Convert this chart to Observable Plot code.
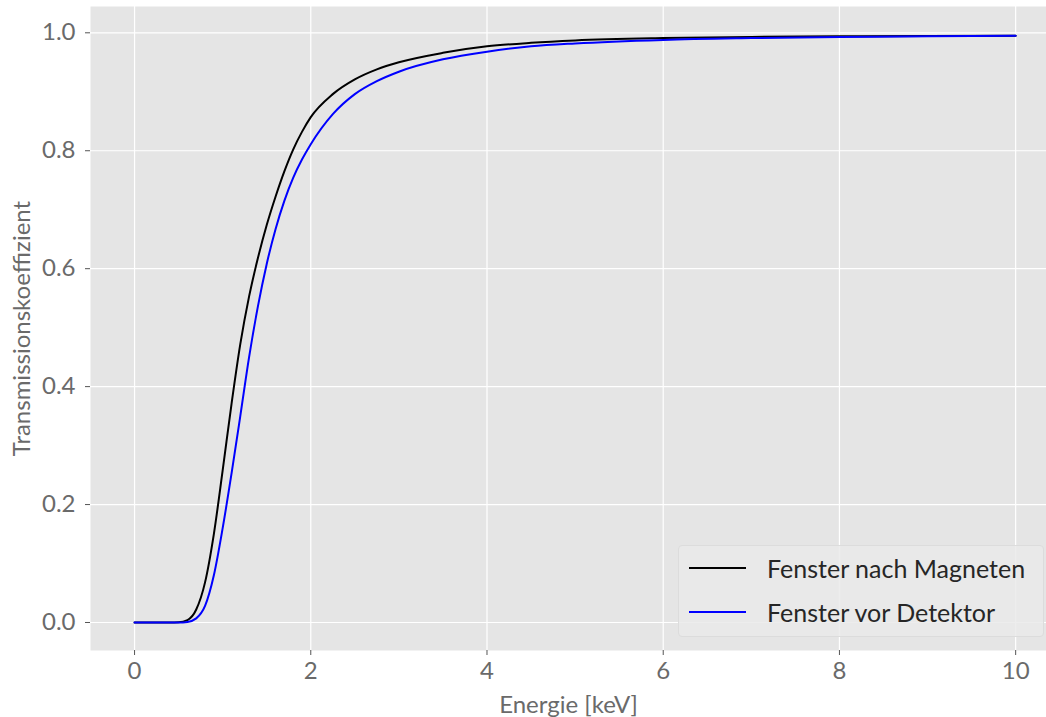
<!DOCTYPE html>
<html>
<head>
<meta charset="utf-8">
<script src="https://cdn.jsdelivr.net/npm/d3@7"></script>
<script src="https://cdn.jsdelivr.net/npm/@observablehq/plot@0.6"></script>
<style>
  html, body { margin: 0; padding: 0; background: #fff; overflow: hidden; }
  #wrap { position: relative; width: 1046px; height: 717px; }
  #legend {
    position: absolute; left: 678px; top: 545px; width: 366px; height: 92px;
    box-sizing: border-box; background: rgba(234,234,234,0.85);
    border: 1px solid #dcdcdc; border-radius: 4px;
    font-family: Lato, "Open Sans", sans-serif; font-size: 25px; color: #262626;
  }
  .item { position: absolute; left: 10px; height: 30px; display: flex; align-items: center; }
  .swatch { width: 57px; height: 2px; margin-right: 21px; }
</style>
</head>
<body>
<div id="wrap">
  <div id="chart"></div>
  <div id="legend"></div>
</div>
<script>
// Transmission of the two windows versus photon energy
const seriesNames = ["Fenster nach Magneten", "Fenster vor Detektor"];
const seriesColors = ["#000000", "#0000ff"];

// Fenster nach Magneten
const energyMagnet = [0, 0.4, 0.5, 0.6, 0.7, 0.8, 0.9, 1.0, 1.1, 1.2, 1.3, 1.4, 1.5, 1.6, 1.7, 1.8, 1.9, 2.0, 2.25, 2.5, 2.75, 3.0, 3.5, 4.0, 4.5, 5.0, 6.0, 7.0, 8.0, 9.0, 10.0];
const transMagnet  = [0, 0, 0.0003, 0.004, 0.022, 0.068, 0.150, 0.258, 0.370, 0.472, 0.553, 0.618, 0.674, 0.722, 0.765, 0.802, 0.832, 0.857, 0.896, 0.921, 0.938, 0.950, 0.966, 0.977, 0.983, 0.987, 0.991, 0.993, 0.994, 0.9945, 0.995];

// Fenster vor Detektor
const energyDetector = [0, 0.5, 0.6, 0.7, 0.8, 0.9, 1.0, 1.1, 1.2, 1.3, 1.4, 1.5, 1.6, 1.7, 1.8, 1.9, 2.0, 2.25, 2.5, 2.75, 3.0, 3.5, 4.0, 4.5, 5.0, 6.0, 7.0, 8.0, 9.0, 10.0];
const transDetector  = [0, 0, 0.001, 0.007, 0.028, 0.080, 0.160, 0.252, 0.350, 0.450, 0.536, 0.608, 0.667, 0.715, 0.754, 0.785, 0.811, 0.862, 0.896, 0.918, 0.934, 0.955, 0.968, 0.977, 0.982, 0.988, 0.991, 0.993, 0.994, 0.995];

const xTicks = [0, 2, 4, 6, 8, 10];
const yTicks = [0.0, 0.2, 0.4, 0.6, 0.8, 1.0];

const rows = [
  ...energyMagnet.map((e, i) => ({E: e, T: transMagnet[i], s: seriesNames[0]})),
  ...energyDetector.map((e, i) => ({E: e, T: transDetector[i], s: seriesNames[1]}))
];

const font = "Lato, 'Open Sans', sans-serif";
const grey = "#6a6a6a";

const chart = Plot.plot({
  width: 1046,
  height: 717,
  marginLeft: 90,
  marginRight: 0,
  marginTop: 6,
  marginBottom: 67,
  style: {fontFamily: font, background: "#ffffff", overflow: "visible"},
  x: {domain: [-0.5, 10.35]},
  y: {domain: [-0.0475, 1.0446]},
  color: {domain: seriesNames, range: seriesColors},
  marks: [
    Plot.frame({fill: "#e5e5e5", stroke: null}),
    Plot.gridX(xTicks, {stroke: "#ffffff", strokeOpacity: 1, strokeWidth: 1.2}),
    Plot.gridY(yTicks, {stroke: "#ffffff", strokeOpacity: 1, strokeWidth: 1.2}),
    Plot.axisX(xTicks, {
      tickSize: 5, tickPadding: 6, fontSize: 24, color: grey, stroke: "#555",
      tickFormat: d3.format("d"),
      label: "Energie [keV]", labelAnchor: "center", labelArrow: "none", labelOffset: 62
    }),
    Plot.axisY(yTicks, {
      tickSize: 5, tickPadding: 10, fontSize: 24, color: grey, stroke: "#555",
      tickFormat: d3.format(".1f"),
      label: "Transmissionskoeffizient", labelAnchor: "center", labelArrow: "none", labelOffset: 78
    }),
    Plot.line(rows, {x: "E", y: "T", z: "s", stroke: "s", strokeWidth: 2, curve: "monotone-x"})
  ]
});
document.getElementById("chart").appendChild(chart);

// Legend box in the lower right corner of the plot area
const legend = document.getElementById("legend");
seriesNames.forEach((name, i) => {
  const item = document.createElement("div");
  item.className = "item";
  item.style.top = (7 + i * 44) + "px";
  const sw = document.createElement("div");
  sw.className = "swatch";
  sw.style.background = seriesColors[i];
  const label = document.createElement("span");
  label.textContent = name;
  item.appendChild(sw);
  item.appendChild(label);
  legend.appendChild(item);
});
</script>
</body>
</html>
